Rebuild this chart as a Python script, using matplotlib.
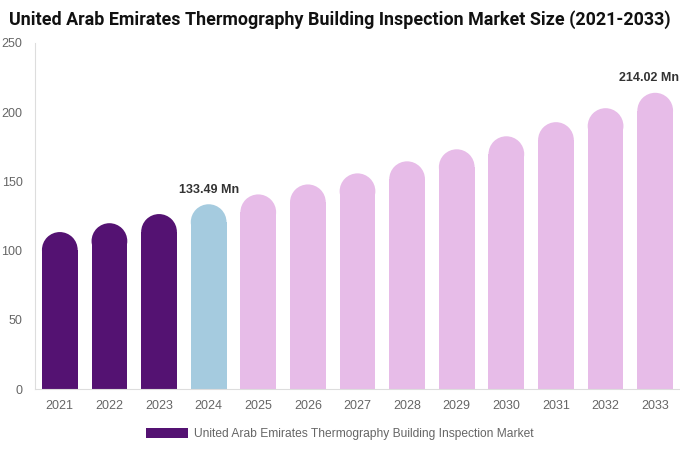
import matplotlib
matplotlib.use("Agg")
import matplotlib.pyplot as plt
from matplotlib.patches import Rectangle, Ellipse, Patch

years = ["2021", "2022", "2023", "2024", "2025", "2026", "2027",
         "2028", "2029", "2030", "2031", "2032", "2033"]
values = [113.4, 119.8, 126.4, 133.49, 140.6, 147.8, 155.8,
          164.5, 173.2, 182.6, 192.8, 202.9, 214.02]
bar_colors = ["#541272"] * 3 + ["#A5CBDF"] + ["#E7BCE8"] * 9
yticks = [0, 50, 100, 150, 200, 250]
annotated = {3: "133.49 Mn", 12: "214.02 Mn"}
legend_label = "United Arab Emirates Thermography Building Inspection Market"
title = "United Arab Emirates Thermography Building Inspection Market Size (2021-2033)"

plt.rcParams['font.family'] = ['Liberation Sans', 'DejaVu Sans']

fig = plt.figure(figsize=(6.8, 4.5), dpi=100)
ax = fig.add_axes([35/680, 61/450, 645/680, 346/450])
ax.set_xlim(-0.5, len(years) - 0.5)
ax.set_ylim(0, 250)

bw = 0.72
fig.canvas.draw()
p0 = ax.transData.transform((0, 0))
p1 = ax.transData.transform((1, 1))
px_x = p1[0] - p0[0]
px_y = p1[1] - p0[1]
r_px = bw * px_x / 2
r_y = r_px / px_y

for i, (v, c) in enumerate(zip(values, bar_colors)):
    ax.add_patch(Rectangle((i - bw/2, 0), bw, v - r_y, facecolor=c, edgecolor='none'))
    ax.add_patch(Ellipse((i, v - r_y), bw, 2*r_y, facecolor=c, edgecolor='none'))
    if i in annotated:
        if i == len(years) - 1:
            ax.text(len(years) - 0.52, v + 6, annotated[i], ha='right', va='bottom',
                    fontsize=9, fontweight='bold', color='#333333', clip_on=False)
        else:
            ax.text(i, v + 6, annotated[i], ha='center', va='bottom', fontsize=9,
                    fontweight='bold', color='#333333', clip_on=False)

ax.set_xticks(range(len(years)))
ax.set_xticklabels(years)
ax.set_yticks(yticks)
ax.tick_params(axis='both', length=0, labelsize=9, labelcolor='#666666')
ax.tick_params(axis='x', pad=8)
ax.tick_params(axis='y', pad=9)
for s in ['top', 'right']:
    ax.spines[s].set_visible(False)
ax.spines['left'].set_color('#dddddd')
ax.spines['bottom'].set_color('#dddddd')

fig.text(0.5, 0.978, title, ha='center', va='top', fontsize=12.9, fontweight='bold',
         family=['Roboto', 'DejaVu Sans'], color='#111111')

leg = fig.legend(handles=[Patch(facecolor='#541272', label=legend_label)],
                 loc='center', bbox_to_anchor=(0.5, 16/450), frameon=False,
                 fontsize=8.65, handlelength=3.5, handleheight=0.95, handletextpad=0.5)
for t in leg.get_texts():
    t.set_color('#666666')

fig.savefig("out.png", dpi=100)
